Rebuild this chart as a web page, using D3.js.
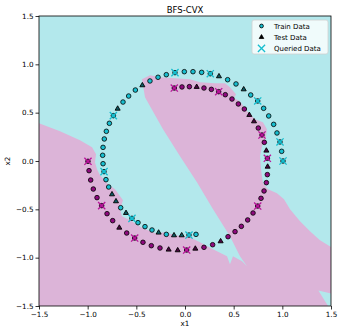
<!DOCTYPE html>
<html>
<head>
<meta charset="utf-8">
<script src="https://cdn.jsdelivr.net/npm/d3@7"></script>
<style>
  body { margin: 0; background: #fff; }
  text { font-family: "DejaVu Sans", sans-serif; fill: #000; }
</style>
</head>
<body>
<div id="chart"></div>
<script>
// ---- data ----
const ticks = [-1.5, -1.0, -0.5, 0.0, 0.5, 1.0, 1.5];

// cyan class
const cyanTrain = [[-0.007,0.924],[0.082,0.924],[0.171,0.917],[0.438,0.841],[0.524,0.797],[0.675,0.683],[0.808,0.545],[0.86,0.466],[0.911,0.379],[0.945,0.29],[0.993,0.1],
  [-0.192,0.893],[-0.277,0.866],[-0.36,0.828],[-0.51,0.734],[-0.579,0.672],[-0.637,0.61],[-0.777,0.39],[-0.808,0.307],[-0.829,0.228],[-0.842,0.141],[-0.846,0.059],[-0.842,-0.028],
  [-0.812,-0.193],[-0.784,-0.269],[-0.661,-0.483],[-0.483,-0.638],[-0.411,-0.679],[-0.339,-0.714],[-0.192,-0.759],[0.113,-0.759]];
const cyanTest = [[0.349,0.876],[0.603,0.741],[-0.438,0.783],[-0.692,0.541],[-0.75,-0.345],[-0.709,-0.417],[-0.606,-0.538],[-0.271,-0.741],[-0.113,-0.769],[-0.034,-0.769]];
const cyanQueried = [[0.26,0.903],[0.747,0.621],[0.976,0.197],[1.007,0.0],[-0.103,0.914],[-0.736,0.469],[-0.832,-0.11],[-0.545,-0.593],[0.041,-0.766]];

// magenta class
const magentaTrain = [[-0.031,0.766],[0.045,0.769],[0.195,0.755],[0.271,0.741],[0.414,0.686],[0.483,0.641],[0.548,0.59],[0.61,0.538],[0.753,0.341],[0.815,0.193],
  [0.846,-0.141],[0.836,-0.224],[0.812,-0.31],[0.781,-0.386],[0.699,-0.538],[0.644,-0.61],[0.579,-0.676],[0.514,-0.731],[0.442,-0.783],[0.284,-0.866],[0.195,-0.893],
  [-0.257,-0.9],[-0.346,-0.876],[-0.432,-0.841],[-0.599,-0.745],[-0.743,-0.617],[-0.801,-0.545],[-0.904,-0.379],[-0.942,-0.29],[-0.969,-0.197],[-0.986,-0.1]];
const magentaTest = [[0.12,0.766],[0.661,0.476],[0.709,0.41],[0.836,0.107],[0.849,-0.059],[0.366,-0.831],[0.106,-0.907],[-0.075,-0.924],[-0.168,-0.917],[-0.675,-0.69]];
const magentaQueried = [[-0.11,0.755],[0.346,0.717],[0.791,0.269],[0.846,0.028],[0.747,-0.466],[0.017,-0.921],[-0.517,-0.797],[-0.856,-0.462],[-0.997,-0.003]];

// decision regions: cyan predicted area (rest is magenta)
const cyanRegion = [[-1.5,1.5],[1.5,1.5],[1.5,-0.89],[1.387,-0.82],[1.284,-0.727],[1.182,-0.624],[1.079,-0.5],[1.017,-0.396],[0.945,-0.334],[0.853,-0.293],
  [0.801,-0.231],[0.781,-0.086],[0.771,0.049],[0.791,0.152],[0.832,0.245],[0.842,0.328],[0.801,0.4],[0.719,0.431],[0.637,0.514],[0.565,0.618],[0.503,0.649],
  [0.524,0.69],[0.462,0.762],[0.411,0.804],[0.308,0.804],[0.154,0.814],[0.051,0.845],[-0.103,0.855],[-0.257,0.866],[-0.36,0.886],[-0.442,0.845],[-0.411,0.659],
  [-0.226,0.328],[-0.051,0.049],[0.123,-0.22],[0.288,-0.5],[0.462,-0.779],[0.565,-0.986],[0.637,-1.089],[0.586,-1.038],[0.493,-0.986],[0.462,-1.068],
  [0.432,-0.986],[0.288,-0.913],[0.154,-0.841],[0.051,-0.789],[-0.103,-0.769],[-0.205,-0.738],[-0.308,-0.748],[-0.452,-0.686],[-0.565,-0.613],[-0.647,-0.572],
  [-0.668,-0.5],[-0.637,-0.407],[-0.719,-0.293],[-0.791,-0.241],[-0.873,-0.148],[-0.904,-0.086],[-0.925,-0.013],[-0.914,0.069],[-0.955,0.142],[-1.079,0.214],
  [-1.284,0.307],[-1.5,0.39]];
const cyanCorner = [[1.37,-1.34],[1.5,-1.37],[1.5,-1.5],[1.47,-1.5]];

const legendLabels = ['Train Data', 'Test Data', 'Queried Data'];

// ---- layout ----
const margin = { top: 16, left: 39 };
const width = 292;
const height = 290;

const cyanBg = '#b3e8ec';
const pinkBg = '#dcb4d8';
const cyanPt = '#17becf';
const magPt = '#8e0a7e';
const cyanTri = '#0d5a63';
const magTri = '#4a0541';
const cyanX = '#17becf';
const magX = '#b8159a';

const svg = d3.select('#chart')
  .append('svg')
  .attr('width', 343)
  .attr('height', 335);

svg.append('defs')
  .append('clipPath')
  .attr('id', 'plotClip')
  .append('rect')
  .attr('width', width)
  .attr('height', height);

const g = svg.append('g')
  .attr('transform', `translate(${margin.left}, ${margin.top})`);

const x = d3.scaleLinear().domain([-1.5, 1.5]).range([0, width]);
const y = d3.scaleLinear().domain([-1.5, 1.5]).range([height, 0]);

const area = g.append('g').attr('clip-path', 'url(#plotClip)');

area.append('rect')
  .attr('width', width)
  .attr('height', height)
  .attr('fill', pinkBg);

const poly = d3.line().x(d => x(d[0])).y(d => y(d[1])).curve(d3.curveLinearClosed);

area.selectAll('.region')
  .data([cyanRegion, cyanCorner])
  .enter()
  .append('path')
  .attr('d', poly)
  .attr('fill', cyanBg);

// markers
const triPath = d3.symbol().type(d3.symbolTriangle).size(11)();
const xPath = 'M-3.6,-3.6L3.6,3.6M-3.6,3.6L3.6,-3.6';

function drawClass(train, test, queried, fill, triFill, xColor) {
  area.selectAll(null)
    .data(train.concat(queried))
    .enter()
    .append('circle')
    .attr('cx', d => x(d[0]))
    .attr('cy', d => y(d[1]))
    .attr('r', 2.3)
    .attr('fill', fill)
    .attr('stroke', '#000')
    .attr('stroke-width', 0.8);

  area.selectAll(null)
    .data(test)
    .enter()
    .append('path')
    .attr('d', triPath)
    .attr('transform', d => `translate(${x(d[0])},${y(d[1])})`)
    .attr('fill', triFill)
    .attr('stroke', '#000')
    .attr('stroke-width', 0.9);

  area.selectAll(null)
    .data(queried)
    .enter()
    .append('path')
    .attr('d', xPath)
    .attr('transform', d => `translate(${x(d[0])},${y(d[1])})`)
    .attr('fill', 'none')
    .attr('stroke', xColor)
    .attr('stroke-width', 1.3);
}

drawClass(cyanTrain, cyanTest, cyanQueried, cyanPt, cyanTri, cyanX);
drawClass(magentaTrain, magentaTest, magentaQueried, magPt, magTri, magX);

// axes
const fmt = d => d3.format('.1f')(d).replace('-', '\u2212');

const xAxis = g.append('g')
  .attr('transform', `translate(0, ${height})`)
  .call(d3.axisBottom(x).tickValues(ticks).tickFormat(fmt).tickSize(3.5).tickPadding(2));

const yAxis = g.append('g')
  .call(d3.axisLeft(y).tickValues(ticks).tickFormat(fmt).tickSize(3.5).tickPadding(2));

[xAxis, yAxis].forEach(a => {
  a.select('.domain').remove();
  a.selectAll('text').style('font-size', '7.2px').style('font-family', 'DejaVu Sans, sans-serif');
  a.selectAll('line').attr('stroke', '#000').attr('stroke-width', 0.8);
});

g.append('rect')
  .attr('width', width)
  .attr('height', height)
  .attr('fill', 'none')
  .attr('stroke', '#000')
  .attr('stroke-width', 0.8);

svg.append('text')
  .attr('x', margin.left + width / 2)
  .attr('y', 13)
  .attr('text-anchor', 'middle')
  .style('font-size', '8.5px')
  .text('BFS-CVX');

svg.append('text')
  .attr('x', margin.left + width / 2)
  .attr('y', 326)
  .attr('text-anchor', 'middle')
  .style('font-size', '7.2px')
  .text('x1');

svg.append('text')
  .attr('transform', `translate(10, ${margin.top + height / 2}) rotate(-90)`)
  .attr('text-anchor', 'middle')
  .style('font-size', '7.2px')
  .text('x2');

// legend
const legend = svg.append('g').attr('transform', 'translate(252, 20)');

legend.append('rect')
  .attr('width', 76)
  .attr('height', 34)
  .attr('rx', 2)
  .attr('fill', '#fff')
  .attr('fill-opacity', 0.8)
  .attr('stroke', '#d0d0d0')
  .attr('stroke-width', 0.8);

const rows = legend.selectAll('.row')
  .data(legendLabels)
  .enter()
  .append('g')
  .attr('transform', (d, i) => `translate(9.5, ${6 + i * 11.2})`);

rows.append('text')
  .attr('x', 12.5)
  .attr('y', 2.5)
  .style('font-size', '7px')
  .text(d => d);

rows.filter((d, i) => i === 0)
  .append('circle')
  .attr('r', 1.9)
  .attr('fill', cyanPt)
  .attr('stroke', '#000')
  .attr('stroke-width', 0.8);

rows.filter((d, i) => i === 1)
  .append('path')
  .attr('d', d3.symbol().type(d3.symbolTriangle).size(9)())
  .attr('fill', '#000')
  .attr('stroke', '#000')
  .attr('stroke-width', 0.8);

rows.filter((d, i) => i === 2)
  .append('path')
  .attr('d', xPath)
  .attr('fill', 'none')
  .attr('stroke', cyanX)
  .attr('stroke-width', 1.3);
</script>
</body>
</html>
